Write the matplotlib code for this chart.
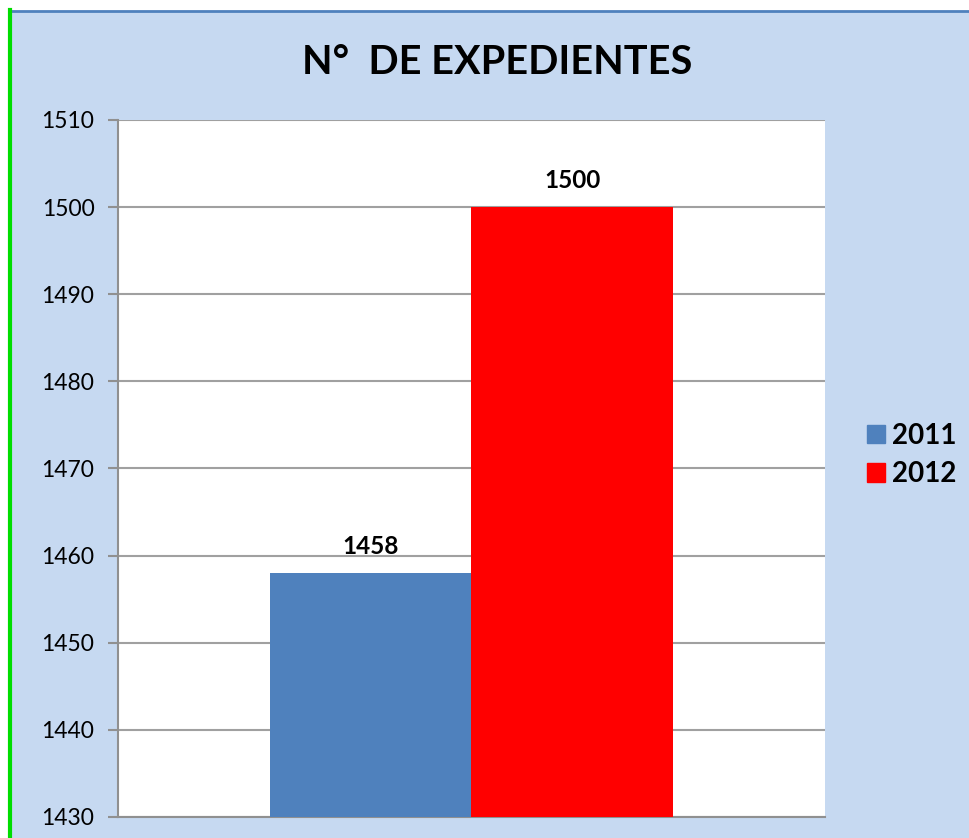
import matplotlib
matplotlib.use("Agg")
import matplotlib.pyplot as plt
from matplotlib.patches import Rectangle
from matplotlib.lines import Line2D

years = ["2011", "2012"]
values = [1458, 1500]
colors = ["#4F81BD", "#FF0000"]
yticks = [1430, 1440, 1450, 1460, 1470, 1480, 1490, 1500, 1510]
title = "N°  DE EXPEDIENTES"

plt.rcParams['font.family'] = ['Lato', 'DejaVu Sans']

fig = plt.figure(figsize=(9.7, 8.38), dpi=100)
fig.patch.set_facecolor("white")
# background panel
fig.patches.append(Rectangle((12/970, 0), 1 - 12/970, 1 - 12/838, transform=fig.transFigure,
                             facecolor="#C6D9F1", edgecolor="none", zorder=-10))
fig.lines.append(Line2D([12/970, 1], [1 - 11/838, 1 - 11/838], transform=fig.transFigure,
                        color="#4F81BD", lw=2, zorder=-5))
fig.lines.append(Line2D([10.5/970, 10.5/970], [0, 1 - 10/838], transform=fig.transFigure,
                        color="#00DD00", lw=3, zorder=-5))

ax = fig.add_axes([118/970, 1 - 817/838, (825 - 118)/970, (817 - 120)/838])
ax.set_zorder(1)
ax.set_facecolor("white")
w = 0.2857
xs = [-w/2, w/2]
bars = ax.bar(xs, [v - yticks[0] for v in values], width=w, bottom=yticks[0],
              color=colors, zorder=3, label=years)
ax.set_xlim(-0.5, 0.5)
ax.set_ylim(yticks[0], yticks[-1])
ax.set_yticks(yticks)
ax.set_yticklabels([str(t) for t in yticks], fontsize=16.5)
ax.set_xticks([])
ax.grid(axis="y", color="#A0A0A0", lw=1.5, zorder=1)
for s in ["top", "right"]:
    ax.spines[s].set_visible(False)
ax.spines["left"].set_color("#909090")
ax.spines["left"].set_linewidth(1.5)
ax.spines["bottom"].set_color("#909090")
ax.spines["bottom"].set_linewidth(1.5)
ax.tick_params(axis="y", length=7, width=1.5, color="#909090", pad=10)

for x, v in zip(xs, values):
    ax.annotate(str(v), (x, v), xytext=(0, 13.7), textcoords="offset points",
                ha="center", va="baseline", fontsize=17.5, fontweight="bold")

fig.text(497/970, 1 - 62/838, title, ha="center", va="center", fontsize=28.5, fontweight="bold")

handles = [Rectangle((0, 0), 1, 1, color=c) for c in colors]
leg = fig.legend(handles, years, loc="center left", bbox_to_anchor=(867/970, 1 - 455/838),
                 frameon=False, prop={"size": 20, "weight": "bold"}, borderpad=0, borderaxespad=0,
                 handlelength=0.65, handleheight=0.65, handletextpad=0.25, labelspacing=0.45)

fig.savefig("out.png", dpi=100)
